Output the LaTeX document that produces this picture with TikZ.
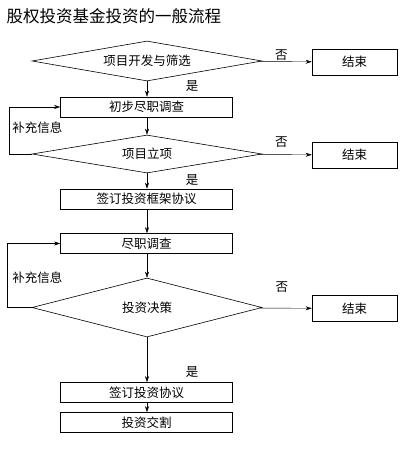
\documentclass[tikz,border=0pt]{standalone}
\usepackage{fontspec}
\newfontfamily\cjk{Noto Sans CJK SC}
\usetikzlibrary{shapes.geometric, arrows.meta}

\begin{document}
\begin{tikzpicture}[x=1pt, y=-1pt, >={Stealth[length=6pt, width=4pt]}, every node/.style={font=\cjk\fontsize{12.5}{15}\selectfont}, align=center,
    stepbox/.style={rectangle, draw, line width=0.7pt, minimum width=172pt, minimum height=20pt, inner sep=0pt},
    endbox/.style={rectangle, draw, line width=0.7pt, minimum width=85pt, minimum height=26pt, inner sep=0pt},
    decision/.style={diamond, draw, line width=0.6pt, minimum width=230pt, inner sep=0pt}]
    \useasboundingbox (0,0) rectangle (403,455);
    % Define blocks
    \node (screen) [decision, aspect=5.75, minimum height=40pt] at (147,61) {项目开发与筛选};
    \node (end1) [endbox] at (354.5,62) {结束};
    \node (prelim) [stepbox] at (146.5,107) {初步尽职调查};
    \node (approve) [decision, aspect=6.05, minimum height=38pt] at (147,154) {项目立项};
    \node (end2) [endbox] at (354.5,155) {结束};
    \node (frame) [stepbox] at (146.5,199) {签订投资框架协议};
    \node (dd) [stepbox] at (146.5,243.5) {尽职调查};
    \node (decide) [decision, aspect=3.9, minimum height=59pt] at (147,307.5) {投资决策};
    \node (end3) [endbox] at (354.5,308.5) {结束};
    \node (sign) [stepbox] at (146.5,392.5) {签订投资协议};
    \node (close) [stepbox] at (146.5,422.5) {投资交割};

    % Draw arrows
    \draw[->] (screen) -- (end1) node[midway, xshift=-4pt, yshift=7pt] {否};
    \draw[->] (screen.south) -- (screen.south |- prelim.north);
    \draw[->] (prelim.south -| approve) -- (approve.north);
    \draw[->] (approve) -- (end2) node[midway, xshift=-4pt, yshift=13pt] {否};
    \draw[->] (approve.west) -- ++(-23,0) |- (prelim.west);
    \draw[->] (approve.south) -- (approve.south |- frame.north);
    \draw[->] (frame.south -| approve) -- (dd.north -| approve);
    \draw[->] (dd.south -| decide) -- (decide.north);
    \draw[->] (decide) -- (end3) node[midway, xshift=-4pt, yshift=21pt] {否};
    \draw[->] (decide.west) -- ++(-25,0) |- (dd.west);
    \draw[->] (decide.south) -- (decide.south |- sign.north);
    \draw[->] (sign.south -| decide) -- (close.north -| decide);

    % Labels
    \node (title) [anchor=west, font=\cjk\fontsize{16.5}{20}\selectfont] at (3,16) {股权投资基金投资的一般流程};
    \node (yes1) at (192,86) {是};
    \node (yes2) at (192,180) {是};
    \node (yes3) at (192,372) {是};
    \node (more1) at (37.5,128) {补充信息};
    \node (more2) at (37.5,277.5) {补充信息};
\end{tikzpicture}
\end{document}
